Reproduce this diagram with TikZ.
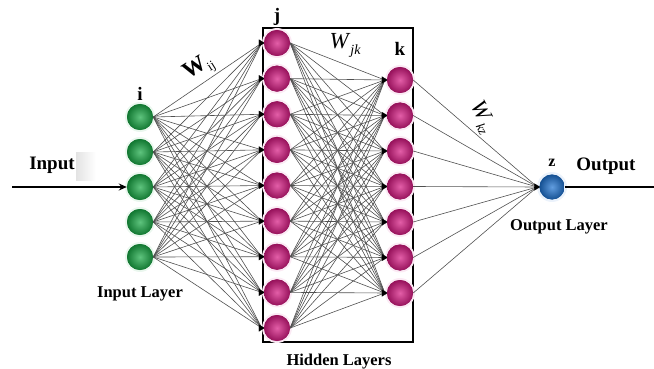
\documentclass[tikz,border=0pt]{standalone}
\usepackage{fontspec}
\setmainfont{Liberation Serif}
\usetikzlibrary{arrows.meta,calc}

\definecolor{ingreen}{RGB}{25,170,70}
\definecolor{hidmag}{RGB}{215,25,130}
\definecolor{outblue}{RGB}{30,115,210}
\definecolor{wire}{RGB}{80,80,80}

\begin{document}
\begin{tikzpicture}[x=1pt,y=-1pt,
  neuron/.style={circle, minimum size=26pt, inner sep=0pt,
                 shading=radial, inner color=#1!70!white, outer color=#1!70!black},
  inneuron/.style={neuron=ingreen},
  hidneuron/.style={neuron=hidmag},
  outneuron/.style={neuron=outblue, minimum size=25pt},
  halo/.style={circle, minimum size=30pt, inner sep=0pt, fill=#1!9},
  link/.style={draw=wire, line width=0.6pt},
  tip/.style={-{Triangle[length=6pt,width=7pt]}, line width=0.1pt, black},
  thick line/.style={line width=1.6pt, black},
  lbl/.style={font=\fontsize{19}{19}\selectfont\bfseries, inner sep=0pt},
  caption/.style={font=\fontsize{16.5}{16.5}\selectfont\bfseries, inner sep=0pt},
  weight/.style={font=\fontsize{23}{23}\selectfont, inner sep=0pt}
]
\useasboundingbox (0,0) rectangle (654,369);

% hidden-layer frame
\node[draw, line width=1.6pt, minimum width=150pt, minimum height=314pt,
      inner sep=0pt] (hidden) at (338,185) {};

% soft glow behind the neurons
\foreach \n in {1,...,5} \node[halo=ingreen] at (140,{117+35*(\n-1)}) {};
\foreach \n in {1,...,9} \node[halo=hidmag] at (277,{43+35.625*(\n-1)}) {};
\foreach \n in {1,...,7} \node[halo=hidmag] at (400,{80+35.5*(\n-1)}) {};
\node[halo=outblue] at (552,187) {};

% neurons
\foreach \n in {1,...,5} \node[inneuron] (i\n) at (140,{117+35*(\n-1)}) {};
\foreach \n in {1,...,9} \node[hidneuron] (j\n) at (277,{43+35.625*(\n-1)}) {};
\foreach \n in {1,...,7} \node[hidneuron] (k\n) at (400,{80+35.5*(\n-1)}) {};
\node[outneuron] (z) at (552,187) {};

% entry points just left of each receiving neuron
\foreach \n in {1,...,9} \coordinate (j\n-in) at ($(j\n.west)+(-2,0)$);
\foreach \n in {1,...,7} \coordinate (k\n-in) at ($(k\n.west)+(-2,0)$);
\coordinate (z-in) at ($(z.west)+(-2,0)$);

% weighted connections
\foreach \a in {1,...,5}
  \foreach \b in {1,...,9}
    \draw[link] (i\a.east) -- (j\b-in);
\foreach \a in {1,...,9}
  \foreach \b in {1,...,7}
    \draw[link] (j\a.east) -- (k\b-in);
\foreach \a in {1,...,7}
  \draw[link] (k\a.east) -- (z-in);

% arrowheads into each neuron
\foreach \n in {1,...,9} \draw[tip] ($(j\n.west)+(-4,0)$) -- ($(j\n.west)+(1,0)$);
\foreach \n in {1,...,7} \draw[tip] ($(k\n.west)+(-4,0)$) -- ($(k\n.west)+(1,0)$);
\draw[tip] ($(z.west)+(-4,0)$) -- ($(z.west)+(1,0)$);

% redraw the neurons over the wires
\foreach \n in {1,...,5} \node[inneuron] at (i\n) {};
\foreach \n in {1,...,9} \node[hidneuron] at (j\n) {};
\foreach \n in {1,...,7} \node[hidneuron] at (k\n) {};
\node[outneuron] at (z) {};

% signal in and out
\coordinate (src) at (12,187);
\coordinate (sink) at (654,187);
\shade[left color=gray!22, right color=white] (76,152) rectangle (96,180);
\draw[thick line, -{Stealth[length=8pt,width=7pt]}] (src) -- (i3.west);
\draw[thick line] (z.east) -- (sink);

% labels
\node[lbl] at (52,165) {Input};
\node[lbl] at (606,166) {Output};
\node[lbl] at (140,94) {i};
\node[lbl] at (277,17) {j};
\node[lbl] at (400,49) {k};
\node[lbl, font=\fontsize{16}{16}\selectfont\bfseries] at (552,163) {z};
\node[caption] at (140,294) {Input Layer};
\node[caption] at (339,362) {Hidden Layers};
\node[caption] at (559,227) {Output Layer};

% weight labels
\node[weight, rotate=32] at (199,68)
  {\textbf{W}\raisebox{-5pt}{\fontsize{13}{13}\selectfont ij}};
\node[weight] at (345,45)
  {\textit{W}\raisebox{-6pt}{\fontsize{14}{14}\selectfont\itshape jk}};
\node[weight, rotate=-62] at (482,117)
  {\textit{W}\raisebox{-5pt}{\fontsize{13}{13}\selectfont\itshape kz}};
\end{tikzpicture}
\end{document}
